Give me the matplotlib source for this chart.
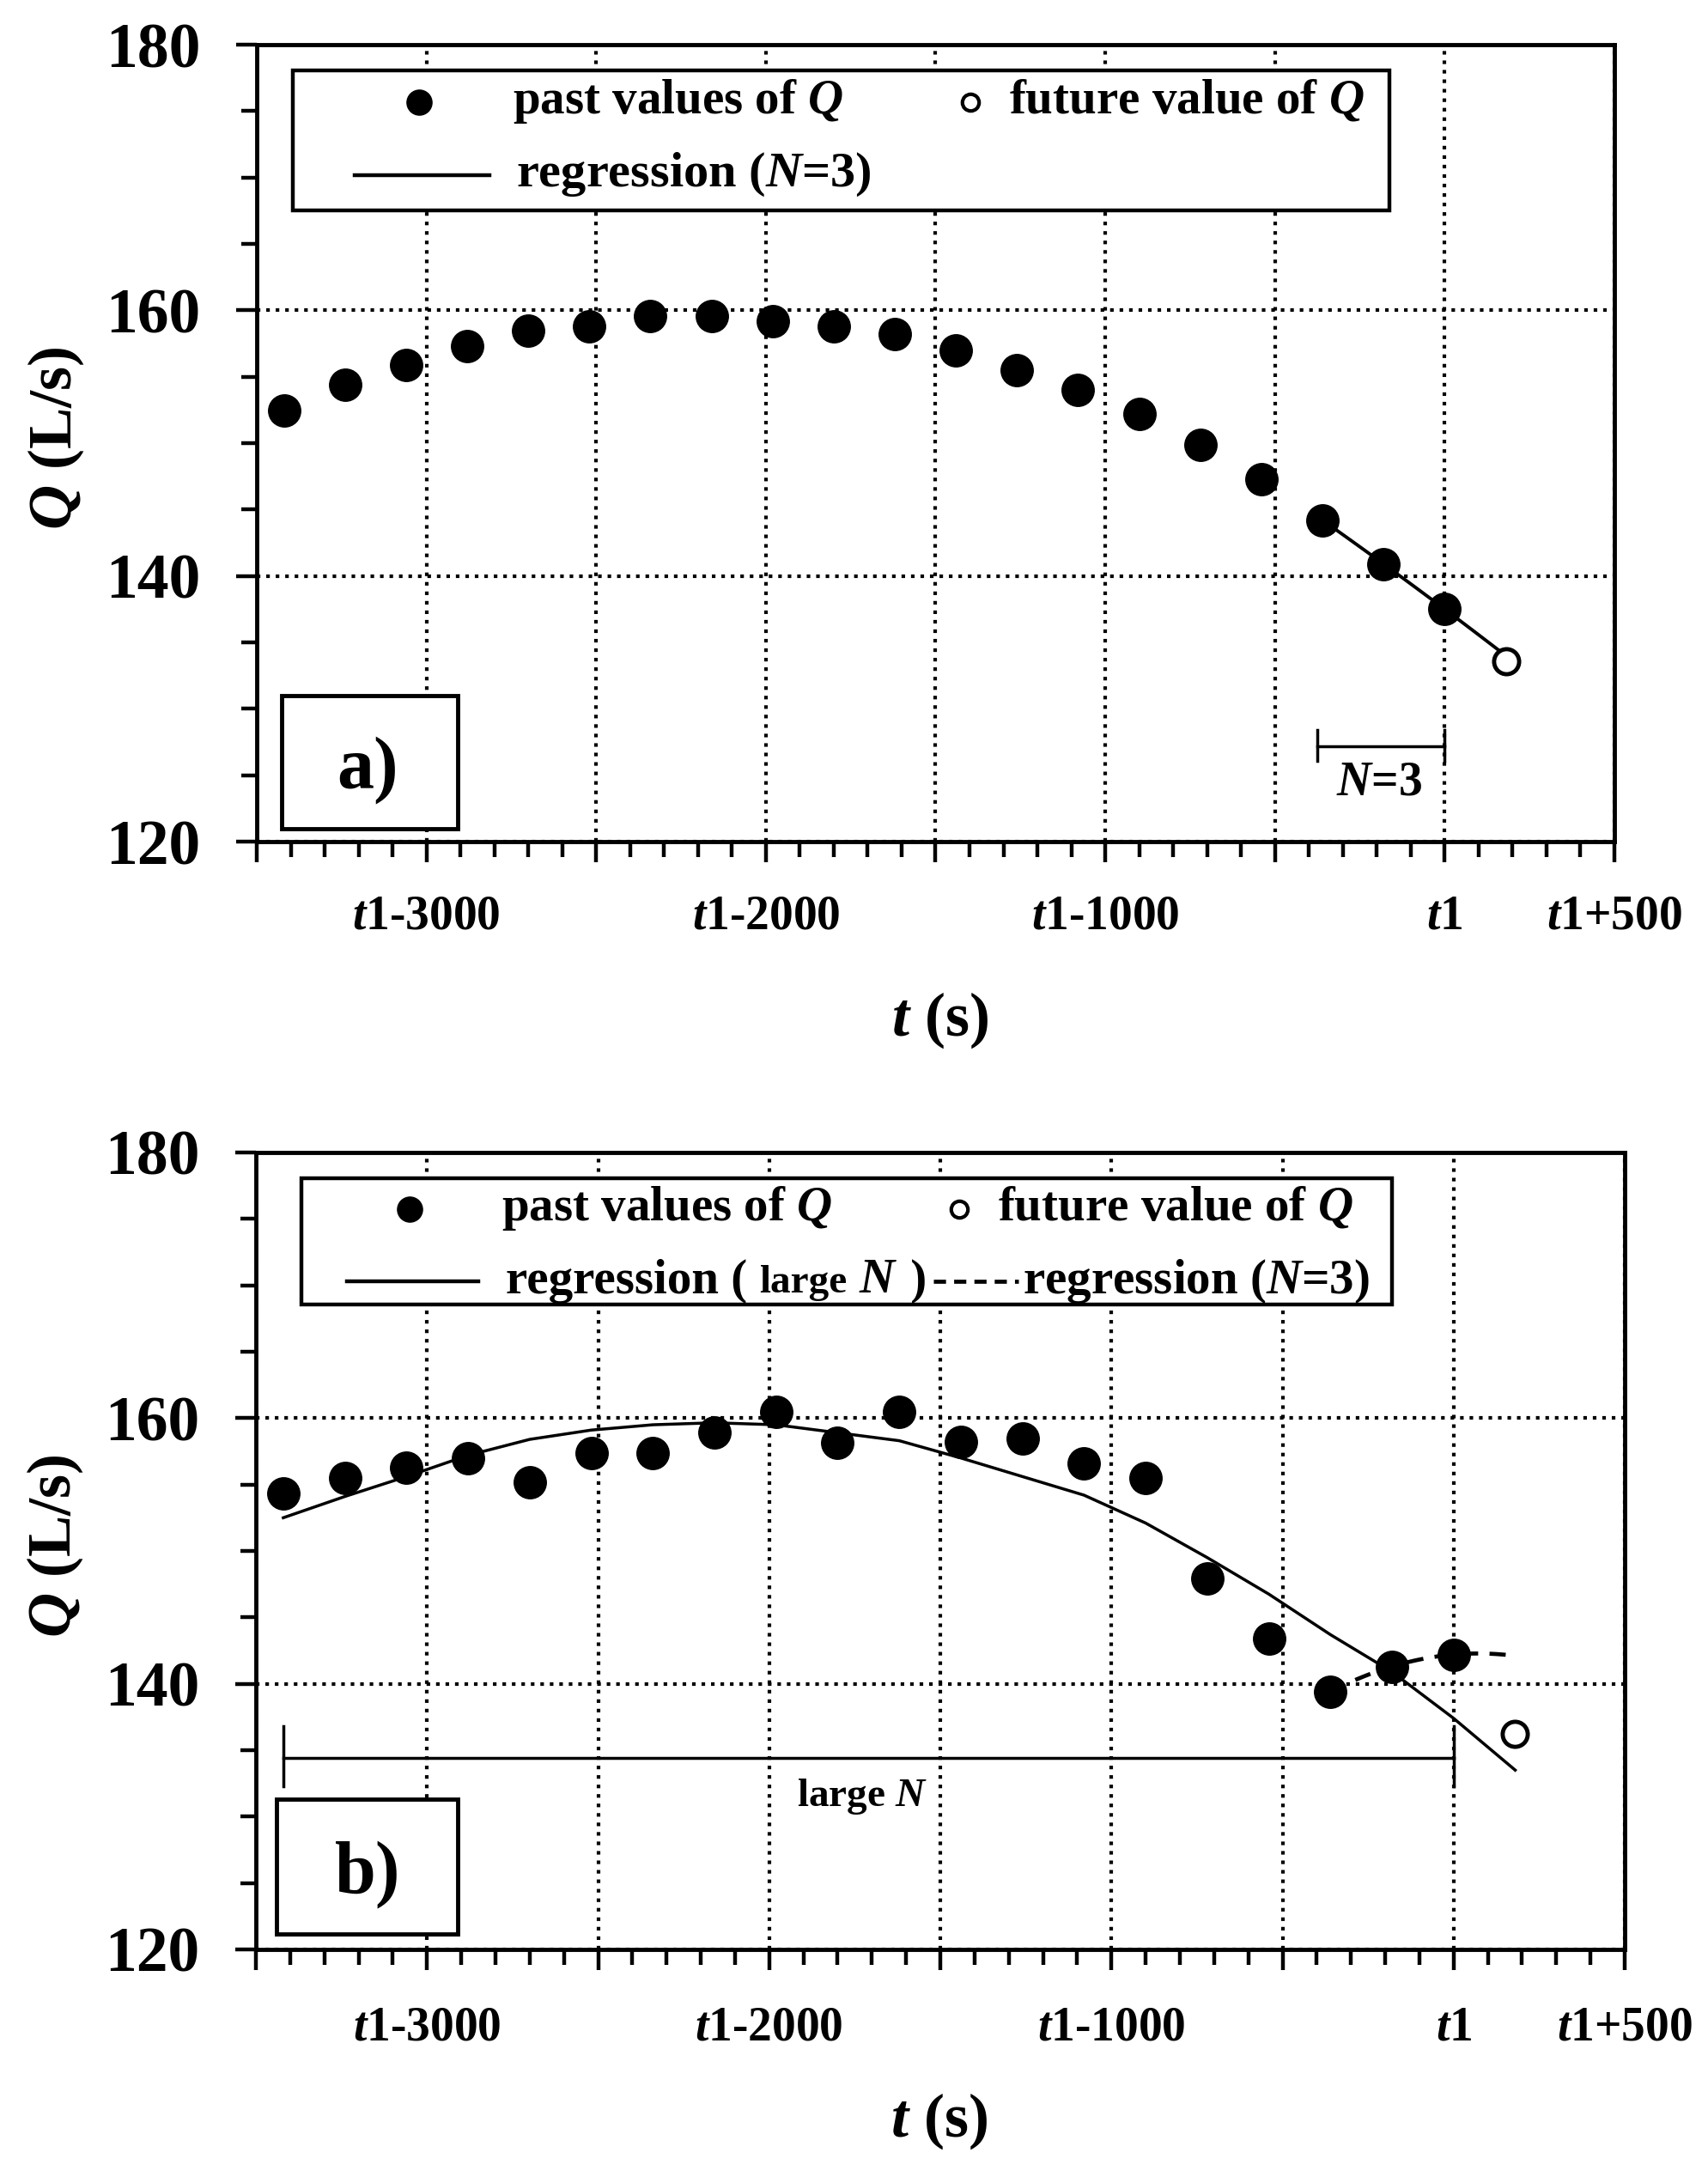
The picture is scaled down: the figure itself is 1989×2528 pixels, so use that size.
import numpy as np
import matplotlib
matplotlib.use("Agg")
import matplotlib.pyplot as plt
from matplotlib.patches import Rectangle
from matplotlib.ticker import FixedLocator, MultipleLocator

plt.rcParams['font.family'] = ['Liberation Serif', 'DejaVu Serif']
plt.rcParams['font.weight'] = 'bold'
plt.rcParams['mathtext.fontset'] = 'custom'
plt.rcParams['mathtext.it'] = 'Liberation Serif:italic:bold'
plt.rcParams['mathtext.rm'] = 'Liberation Serif'
plt.rcParams['mathtext.bf'] = 'Liberation Serif:bold'

# ---------------- data ----------------
t_past = [-3420, -3240, -3060, -2880, -2700, -2520, -2340, -2160, -1980, -1800,
          -1620, -1440, -1260, -1080, -900, -720, -540, -360, -180, 0]
t_future = [180]

q_past_a = [152.45, 154.4, 155.9, 157.3, 158.5, 158.8, 159.6, 159.6, 159.2, 158.8,
            158.2, 157.0, 155.5, 154.0, 152.2, 149.9, 147.3, 144.2, 140.9, 137.5]
q_future_a = [133.6]

q_past_b = [154.35, 155.5, 156.25, 157.0, 155.2, 157.4, 157.4, 158.9, 160.45, 158.15,
            160.45, 158.2, 158.5, 156.6, 155.5, 147.9, 143.4, 139.4, 141.3, 142.2]
q_future_b = [136.2]

# large-N regression curve of panel b, read at the sample times (past + future)
t_curve_b = t_past + t_future
q_curve_b = [152.5, 154.1, 155.6, 157.2, 158.4, 159.1, 159.5, 159.65, 159.5, 158.9,
             158.3, 157.0, 155.6, 154.2, 152.1, 149.5, 146.75, 143.7, 140.9, 137.4, 133.5]

n_recent = 3

x_major = [-3500, -3000, -2500, -2000, -1500, -1000, -500, 0, 500]
x_labels = ['', r'$\mathit{t}\mathrm{1}$-3000', '', r'$\mathit{t}\mathrm{1}$-2000', '',
            r'$\mathit{t}\mathrm{1}$-1000', '', r'$\mathit{t}\mathit{1}$', r'$\mathit{t}\mathrm{1}$+500']
y_major = [120, 140, 160, 180]
y_labels = ['120', '140', '160', '180']

# brackets  (t_start, t_end, Q level)
bracket_a = (-375, 0, 127.2)
bracket_b = (-3420, 0, 134.4)

# ---------------- figure ----------------
fig = plt.figure(figsize=(19.9, 25.28), dpi=100)
ax_a = fig.add_axes([0.15025, 0.61234, 0.79447, 0.36709])
ax_b = fig.add_axes([0.14975, 0.10206, 0.80101, 0.36709])


def style(ax, xpad):
    ax.set_xlim(-3500, 500)
    ax.set_ylim(120, 180)
    ax.xaxis.set_major_locator(FixedLocator(x_major))
    ax.set_xticklabels(x_labels)
    ax.xaxis.set_minor_locator(MultipleLocator(100))
    ax.yaxis.set_major_locator(FixedLocator(y_major))
    ax.set_yticklabels(y_labels)
    ax.yaxis.set_minor_locator(MultipleLocator(5))
    ax.tick_params(which='major', direction='out', length=17, width=3.2,
                   top=False, right=False)
    ax.tick_params(which='minor', direction='out', length=13, width=3.2,
                   top=False, right=False)
    ax.tick_params(axis='y', which='major', labelsize=53, pad=30)
    ax.tick_params(axis='x', which='major', labelsize=40, pad=xpad)
    for lab in ax.get_xticklabels() + ax.get_yticklabels():
        lab.set_fontweight('bold')
    for s in ax.spines.values():
        s.set_linewidth(3.5)
    ax.grid(True, which='major', linestyle=':', linewidth=3, color='black')
    ax.set_axisbelow(True)
    ax.set_xlabel(r'$\mathit{t}$ (s)', fontsize=52, fontweight='bold')
    ax.set_ylabel(r'$\mathit{Q}$ (L/s)', fontsize=52, fontweight='bold')


def regression_line(ax, t, q, style_kw):
    tt = np.array(t[-n_recent:], dtype=float)
    qq = np.array(q[-n_recent:], dtype=float)
    coef = np.polyfit(tt, qq, 2)
    tx = np.linspace(tt[0], t_future[0], 60)
    ax.plot(tx, np.polyval(coef, tx), color='black', zorder=3, **style_kw)


def panel_box(ax, box, txt, xy):
    ax.add_patch(Rectangle((box[0], box[1]), box[2] - box[0], box[3] - box[1],
                           transform=ax.transAxes, facecolor='white',
                           edgecolor='black', lw=3.5, zorder=5))
    ax.text(xy[0], xy[1], txt, transform=ax.transAxes, fontsize=62,
            fontweight='bold', ha='center', va='center', zorder=6)


def bracket(ax, br, cap_lo, cap_hi):
    t0, t1, q = br
    ax.plot([t0, t1], [q, q], color='black', lw=2.5, zorder=3)
    ax.plot([t0, t0], [cap_lo, cap_hi], color='black', lw=2.5, zorder=3)
    ax.plot([t1, t1], [cap_lo, cap_hi], color='black', lw=2.5, zorder=3)


# ---------------- panel a ----------------
style(ax_a, 27)
ax_a.xaxis.set_label_coords(0.503, -0.224)
ax_a.xaxis.label.set_va('center')
ax_a.yaxis.set_label_coords(-0.148, 0.5065)
ax_a.yaxis.label.set_va('center')

regression_line(ax_a, t_past, q_past_a, dict(lw=2.8, linestyle='-'))
ax_a.plot(t_past, q_past_a, 'o', color='black', ms=27, zorder=4)
ax_a.plot(t_future, q_future_a, 'o', mfc='white', mec='black', mew=3.5, ms=21, zorder=4)

bracket(ax_a, bracket_a, 126.1, 128.4)
ax_a.text(-192, 124.4, r'$\mathit{N}$=3', fontsize=40, fontweight='bold',
          ha='center', va='center', zorder=4)

# legend a
ax_a.add_patch(Rectangle((0.0266, 0.792), 0.834 - 0.0266, 0.9677 - 0.792,
                         transform=ax_a.transAxes, facecolor='white',
                         edgecolor='black', lw=3.2, zorder=5))
ax_a.plot([0.1195], [0.9278], 'o', color='black', ms=21, transform=ax_a.transAxes, zorder=6)
ax_a.text(0.1885, 0.914, r'past values of $\mathit{Q}$', transform=ax_a.transAxes,
          fontsize=41, fontweight='bold', va='baseline', ha='left', zorder=6)
ax_a.plot([0.5256], [0.9278], 'o', mfc='white', mec='black', mew=3, ms=14,
          transform=ax_a.transAxes, zorder=6)
ax_a.text(0.554, 0.914, r'future value of $\mathit{Q}$', transform=ax_a.transAxes,
          fontsize=41, fontweight='bold', va='baseline', ha='left', zorder=6)
ax_a.plot([0.0721, 0.1714], [0.836, 0.836], '-', color='black', lw=3.2,
          transform=ax_a.transAxes, zorder=6)
ax_a.text(0.191, 0.822, r'regression ($\mathit{N}$=3)', transform=ax_a.transAxes,
          fontsize=42, fontweight='bold', va='baseline', ha='left', zorder=6)

panel_box(ax_a, (0.0183, 0.0162, 0.1480, 0.1832), 'a)', (0.0816, 0.0894))

# ---------------- panel b ----------------
style(ax_b, 30)
ax_b.xaxis.set_label_coords(0.4994, -0.2155)
ax_b.xaxis.label.set_va('center')
ax_b.yaxis.set_label_coords(-0.1468, 0.5065)
ax_b.yaxis.label.set_va('center')

ax_b.plot(t_curve_b, q_curve_b, '-', color='black', lw=2.5, zorder=3)
regression_line(ax_b, t_past, q_past_b, dict(lw=3.4, linestyle=(0, (4, 2.8))))
ax_b.plot(t_past, q_past_b, 'o', color='black', ms=27, zorder=4)
ax_b.plot(t_future, q_future_b, 'o', mfc='white', mec='black', mew=3.5, ms=21, zorder=4)

bracket(ax_b, bracket_b, 132.3, 136.8)
ax_b.text(-1728, 131.5, r'large $\mathit{N}$', fontsize=34, fontweight='bold',
          ha='center', va='center', zorder=4)

# legend b
ax_b.add_patch(Rectangle((0.0333, 0.8096), 0.830 - 0.0333, 0.968 - 0.8096,
                         transform=ax_b.transAxes, facecolor='white',
                         edgecolor='black', lw=3.2, zorder=5))
ax_b.plot([0.1122], [0.929], 'o', color='black', ms=21, transform=ax_b.transAxes, zorder=6)
ax_b.text(0.1795, 0.915, r'past values of $\mathit{Q}$', transform=ax_b.transAxes,
          fontsize=41, fontweight='bold', va='baseline', ha='left', zorder=6)
ax_b.plot([0.514], [0.929], 'o', mfc='white', mec='black', mew=3, ms=14,
          transform=ax_b.transAxes, zorder=6)
ax_b.text(0.542, 0.915, r'future value of $\mathit{Q}$', transform=ax_b.transAxes,
          fontsize=41, fontweight='bold', va='baseline', ha='left', zorder=6)
ax_b.plot([0.0662, 0.1625], [0.838, 0.838], '-', color='black', lw=3.2,
          transform=ax_b.transAxes, zorder=6)
yb = 0.824
tA = ax_b.text(0.1824, yb, 'regression ( ', transform=ax_b.transAxes, fontsize=41,
               fontweight='bold', va='baseline', ha='left', zorder=6)
tB = ax_b.annotate('large', xy=(1, yb), xycoords=(tA, 'axes fraction'), fontsize=34,
                   fontweight='bold', va='baseline', ha='left', zorder=6)
tC = ax_b.annotate(r' $\mathit{N}$', xy=(1, yb), xycoords=(tB, 'axes fraction'),
                   fontsize=41, fontweight='bold', va='baseline', ha='left', zorder=6)
tD = ax_b.annotate(' )', xy=(1, yb), xycoords=(tC, 'axes fraction'), fontsize=41,
                   fontweight='bold', va='baseline', ha='left', zorder=6)
ax_b.plot([0.4950, 0.557], [0.838, 0.838], color='black', lw=3.4,
          linestyle=(0, (3.0, 2.0)), transform=ax_b.transAxes, zorder=6)
ax_b.text(0.560, yb, r'regression ($\mathit{N}$=3)', transform=ax_b.transAxes,
          fontsize=41, fontweight='bold', va='baseline', ha='left', zorder=6)

panel_box(ax_b, (0.015, 0.0194, 0.1474, 0.1886), 'b)', (0.0816, 0.0938))

fig.savefig('out.png', dpi=100, facecolor='white')
